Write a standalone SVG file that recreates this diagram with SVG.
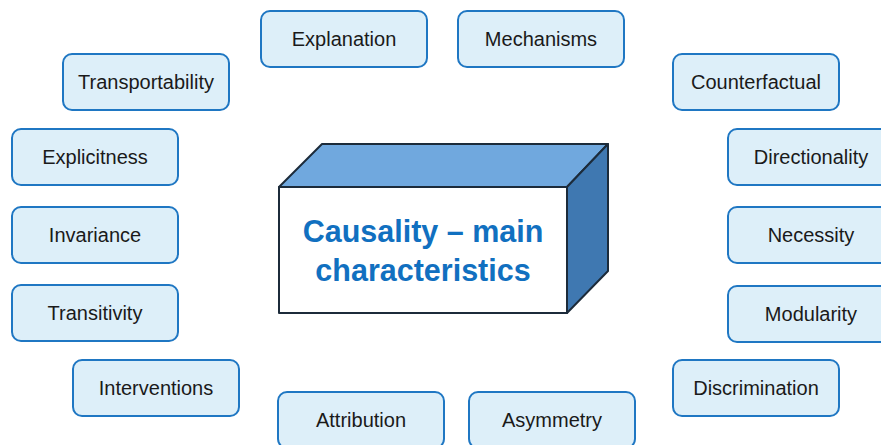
<svg xmlns="http://www.w3.org/2000/svg" width="881" height="445" viewBox="0 0 881 445">
<style>
.n rect{fill:#DDEFF9;stroke:#1F77C3;stroke-width:2}
.n text{font-family:"Liberation Sans",Arial,sans-serif;font-size:20px;fill:#1a1a1a;text-anchor:middle}
.t{font-family:"Liberation Sans",Arial,sans-serif;font-size:30.5px;font-weight:bold;fill:#1170C0;text-anchor:middle}
.edge{stroke:#1C2B3A;stroke-width:2;stroke-linejoin:round}
</style>
<rect width="881" height="445" fill="#fff"/>
<g id="connectors"></g>
<g id="center">
<polygon class="edge" points="279,187 322,144 608,144 567,187" fill="#70A8DE"/>
<polygon class="edge" points="567,187 608,144 608,271 567,313" fill="#3F78B1"/>
<rect class="edge" x="279" y="187" width="288" height="126" fill="#fff"/>
<text class="t" x="423" y="242">Causality – main</text>
<text class="t" x="423" y="281">characteristics</text>
</g>
<g id="explanation" class="n"><rect x="261" y="11" width="166" height="56" rx="9"/><text x="344" y="46">Explanation</text></g>
<g id="mechanisms" class="n"><rect x="458" y="11" width="166" height="56" rx="9"/><text x="541" y="46">Mechanisms</text></g>
<g id="transportability" class="n"><rect x="63" y="54" width="166" height="56" rx="9"/><text x="146" y="89">Transportability</text></g>
<g id="counterfactual" class="n"><rect x="673" y="54" width="166" height="56" rx="9"/><text x="756" y="89">Counterfactual</text></g>
<g id="explicitness" class="n"><rect x="12" y="129" width="166" height="56" rx="9"/><text x="95" y="164">Explicitness</text></g>
<g id="directionality" class="n"><rect x="728" y="129" width="166" height="56" rx="9"/><text x="811" y="164">Directionality</text></g>
<g id="invariance" class="n"><rect x="12" y="207" width="166" height="56" rx="9"/><text x="95" y="242">Invariance</text></g>
<g id="necessity" class="n"><rect x="728" y="207" width="166" height="56" rx="9"/><text x="811" y="242">Necessity</text></g>
<g id="transitivity" class="n"><rect x="12" y="285" width="166" height="56" rx="9"/><text x="95" y="320">Transitivity</text></g>
<g id="modularity" class="n"><rect x="728" y="286" width="166" height="56" rx="9"/><text x="811" y="321">Modularity</text></g>
<g id="interventions" class="n"><rect x="73" y="360" width="166" height="56" rx="9"/><text x="156" y="395">Interventions</text></g>
<g id="discrimination" class="n"><rect x="673" y="360" width="166" height="56" rx="9"/><text x="756" y="395">Discrimination</text></g>
<g id="attribution" class="n"><rect x="278" y="392" width="166" height="56" rx="9"/><text x="361" y="427">Attribution</text></g>
<g id="asymmetry" class="n"><rect x="469" y="392" width="166" height="56" rx="9"/><text x="552" y="427">Asymmetry</text></g>
</svg>
